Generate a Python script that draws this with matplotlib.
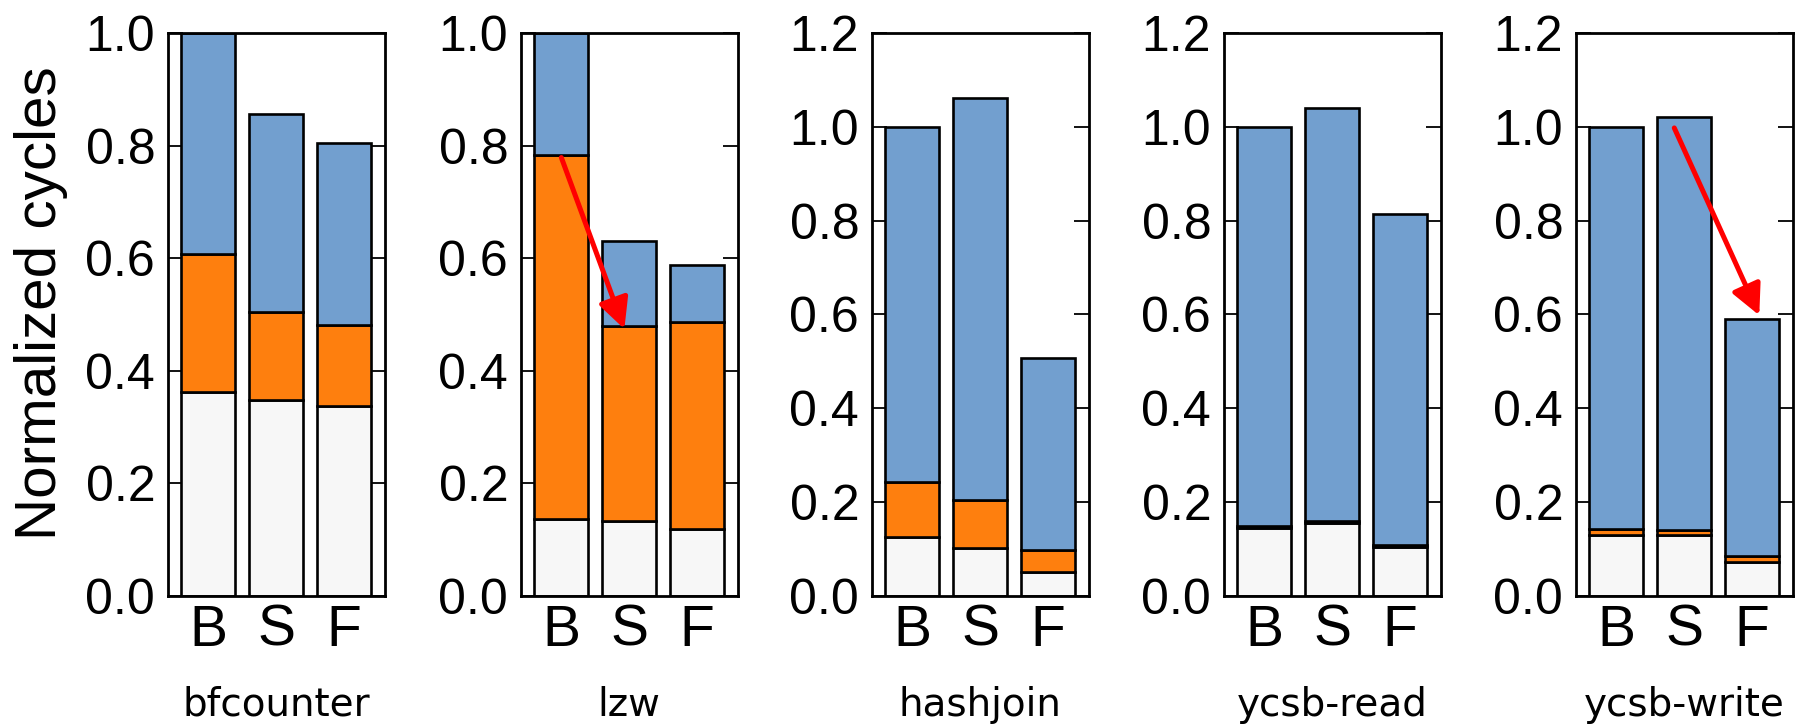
import matplotlib
matplotlib.use("Agg")
import matplotlib.pyplot as plt
import numpy as np

# ---------------- data ----------------
benchmarks = ["bfcounter", "lzw", "hashjoin", "ycsb-read", "ycsb-write"]
configs = ["B", "S", "F"]

# stacked segment heights (bottom -> top), per benchmark, per config
seg_white = [[0.362, 0.347, 0.337],
             [0.136, 0.132, 0.118],
             [0.125, 0.102, 0.051],
             [0.144, 0.155, 0.104],
             [0.130, 0.129, 0.072]]
seg_orange = [[0.245, 0.158, 0.144],
              [0.648, 0.347, 0.369],
              [0.118, 0.102, 0.047],
              [0.004, 0.003, 0.003],
              [0.011, 0.010, 0.012]]
seg_blue = [[0.393, 0.351, 0.323],
            [0.216, 0.152, 0.101],
            [0.758, 0.857, 0.408],
            [0.852, 0.882, 0.708],
            [0.859, 0.883, 0.506]]
ymax = [1.0, 1.0, 1.2, 1.2, 1.2]

# arrows: panel index, start and end in data coords
arrow_panels = [1, 4]
arrow_start = [(0.0, 0.779), (0.855, 0.998)]
arrow_end = [(0.93, 0.474), (2.11, 0.598)]

# ---------------- style ----------------
c_white = "#f7f7f7"
c_orange = "#fe7f0e"
c_blue = "#729fcf"

fig = plt.figure(figsize=(18, 7.27), dpi=100)

W, H = 1800.0, 727.0
lefts_px = [167.7, 520.7, 871.7, 1223.7, 1575.7]
width_px = 216.8
top_px, bottom_px = 33.3, 595.5

x = np.arange(len(configs))
for i, name in enumerate(benchmarks):
    ax = fig.add_axes([lefts_px[i] / W, 1 - bottom_px / H,
                       width_px / W, (bottom_px - top_px) / H])
    w = np.array(seg_white[i]); o = np.array(seg_orange[i]); b = np.array(seg_blue[i])
    kw = dict(width=0.8, edgecolor="black", linewidth=1.9, zorder=2)
    ax.bar(x, w, color=c_white, **kw)
    ax.bar(x, o, bottom=w, color=c_orange, **kw)
    ax.bar(x, b, bottom=w + o, color=c_blue, **kw)
    ax.set_xlim(-0.6, 2.6)
    ax.set_ylim(0, ymax[i])
    yt = np.arange(0, ymax[i] + 1e-9, 0.2)
    ax.set_yticks(yt)
    ax.set_yticklabels([f"{v:.1f}" for v in yt], family="Liberation Sans", fontsize=36)
    ax.set_xticks(x)
    ax.set_xticklabels(configs, family="Liberation Sans", fontsize=41)
    ax.tick_params(axis="y", direction="in", left=True, right=True,
                   labelleft=True, length=11, width=1.3, pad=9)
    ax.tick_params(axis="x", length=0, pad=6)
    for s in ax.spines.values():
        s.set_linewidth(2.0)
        s.set_zorder(3)
    ax.set_xlabel(name, family="DejaVu Sans", fontsize=28, labelpad=20)
    if i == 0:
        ax.set_ylabel("Normalized cycles", family="Liberation Sans", fontsize=42)
        ax.yaxis.set_label_coords(-0.46, 0.52)
    if i in arrow_panels:
        k = arrow_panels.index(i)
        ax.annotate("", xy=arrow_end[k], xytext=arrow_start[k],
                    arrowprops=dict(arrowstyle="-|>,head_length=0.92,head_width=0.46",
                                    color="#ff0000", lw=3.6, mutation_scale=20,
                                    shrinkA=0, shrinkB=0),
                    zorder=5)

fig.savefig("out.png", dpi=100)
